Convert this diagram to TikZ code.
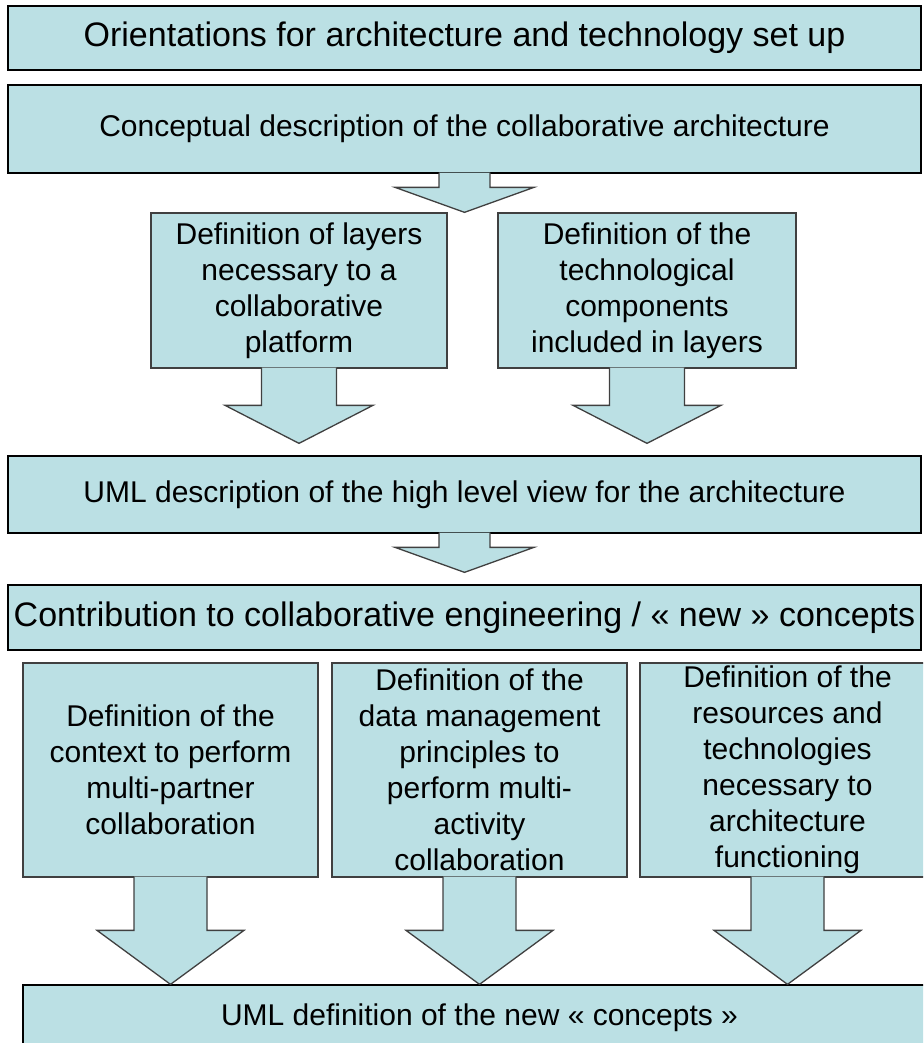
\documentclass[tikz,border=0pt]{standalone}
\usepackage{fontspec}
\setmainfont{Liberation Sans}
\usetikzlibrary{calc}

\definecolor{boxblue}{RGB}{187,224,228}
\definecolor{edgegray}{RGB}{64,64,64}

\tikzset{
  widebox/.style={draw=black, line width=1.3pt, fill=boxblue, inner sep=0pt,
    minimum width=913pt, align=center},
  stepbox/.style={draw=edgegray, line width=1.3pt, fill=boxblue, inner sep=0pt,
    minimum width=296pt, minimum height=#1, align=center,
    font=\fontsize{30pt}{36pt}\selectfont,
    execute at begin node={\rule{0pt}{30pt}}},
  arrowbody/.style={draw=edgegray, line width=1.3pt, fill=boxblue},
}

% block arrow: from, to, gap, half shaft, half head, head length
\newcommand{\blockarrow}[6]{%
  \filldraw[arrowbody]
    ($(#1)+(-#4,-1)$) -- ($(#1 |- #2)+(-#4,-#3-#6)$)
    -- ($(#1 |- #2)+(-#5,-#3-#6)$) -- ($(#1 |- #2)+(0,-#3)$)
    -- ($(#1 |- #2)+(#5,-#3-#6)$) -- ($(#1 |- #2)+(#4,-#3-#6)$)
    -- ($(#1)+(#4,-1)$);
}

\begin{document}
\begin{tikzpicture}[x=1pt, y=-1pt]
    \path[use as bounding box, clip] (0,0) rectangle (923,1043);

    % Architecture set up
    \node[widebox, minimum height=64pt, font=\fontsize{34pt}{40pt}\selectfont] (orient) at (464.5,38)
        {Orientations for architecture and technology set up};
    \node[widebox, minimum height=88pt, font=\fontsize{30pt}{36pt}\selectfont] (concept) at (464.5,129)
        {Conceptual description of the collaborative architecture};
    \node[stepbox=155pt] (layers) at (299,290.5)
        {Definition of layers\\necessary to a\\collaborative\\platform};
    \node[stepbox=155pt, minimum width=298pt] (techno) at (647,290.5)
        {Definition of the\\technological\\components\\included in layers};
    \coordinate (split) at ($(layers.north east)!0.5!(techno.north west)$);
    \node[widebox, minimum height=77pt, font=\fontsize{30pt}{36pt}\selectfont] (umlview) at (464.5,494.5)
        {UML description of the high level view for the architecture};

    \blockarrow{concept.south}{split}{0}{25.5}{69.5}{25}
    \blockarrow{layers.south}{umlview.north}{12}{37.5}{74}{38}
    \blockarrow{techno.south}{umlview.north}{12}{37.5}{74}{38}

    % Collaborative engineering
    \node[widebox, minimum height=65pt, font=\fontsize{34pt}{40pt}\selectfont] (contrib) at (464.5,617.5)
        {Contribution to collaborative engineering / « new » concepts};
    \blockarrow{umlview.south}{contrib.north}{12}{25.5}{69.5}{25}

    \node[stepbox=214pt, minimum width=295pt] (context) at (170.5,770)
        {Definition of the\\context to perform\\multi-partner\\collaboration};
    \node[stepbox=214pt, minimum width=295pt] (datamgt) at (479.5,770)
        {Definition of the\\data management\\principles to\\perform multi-\\activity\\collaboration};
    \node[stepbox=214pt, minimum width=295pt] (resources) at (787.5,770)
        {Definition of the\\resources and\\technologies\\necessary to\\architecture\\functioning};
    \node[widebox, minimum height=65pt, font=\fontsize{30pt}{36pt}\selectfont] (newcpt) at (479.5,1017.5)
        {UML definition of the new « concepts »};

    \blockarrow{context.south}{newcpt.north}{0}{36.5}{73.5}{54}
    \blockarrow{datamgt.south}{newcpt.north}{0}{36.5}{73.5}{54}
    \blockarrow{resources.south}{newcpt.north}{0}{36.5}{73.5}{54}
\end{tikzpicture}
\end{document}
